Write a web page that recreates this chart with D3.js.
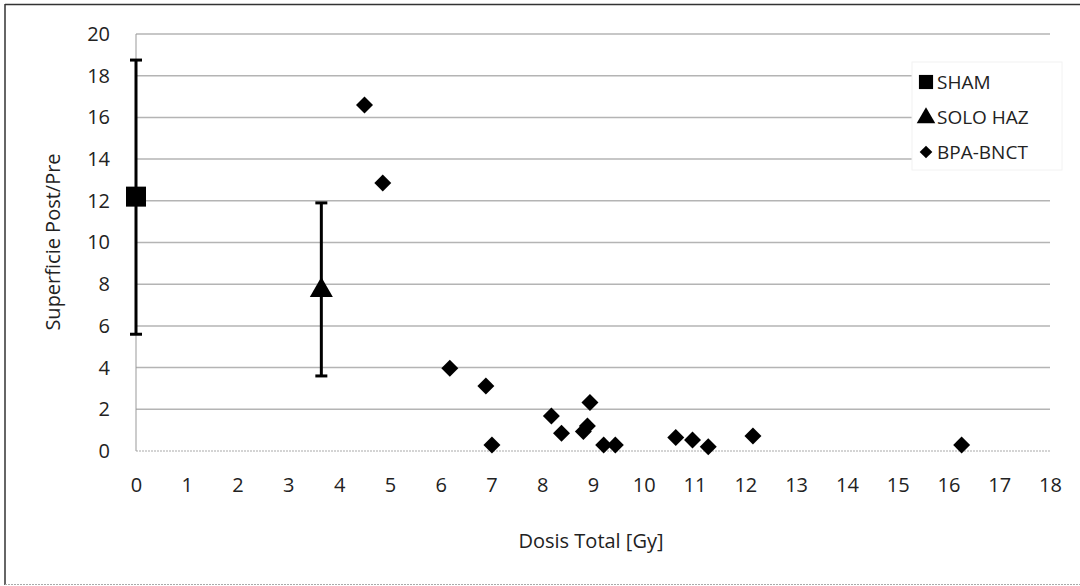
<!DOCTYPE html>
<html>
<head>
<meta charset="utf-8">
<script src="https://cdn.jsdelivr.net/npm/d3@7"></script>
<style>
  body { margin: 0; background: #fff; }
  svg { display: block; font-family: "Open Sans", Lato, sans-serif; }
</style>
</head>
<body>
<svg id="chart" width="1080" height="586"></svg>
<script>
// --- Datos ---
const xTicks = d3.range(0, 19, 1);
const yTicks = d3.range(0, 21, 2);

const shamX = [0];
const shamY = [12.2];
const shamLo = [5.6];
const shamHi = [18.75];

const hazX = [3.65];
const hazY = [7.8];
const hazLo = [3.6];
const hazHi = [11.9];

const bnctX = [4.5, 4.86, 6.18, 6.89, 7.01, 8.18, 8.38, 8.94, 8.89, 8.81, 9.21, 9.44, 10.63, 10.96, 11.27, 12.15, 16.26];
const bnctY = [16.6, 12.85, 3.97, 3.12, 0.29, 1.68, 0.85, 2.33, 1.2, 0.93, 0.29, 0.29, 0.65, 0.53, 0.2, 0.72, 0.29];

const legendNames = ["SHAM", "SOLO HAZ", "BPA-BNCT"];

// --- Escalas ---
const svg = d3.select("#chart");
const x = d3.scaleLinear().domain([0, 18]).range([136, 1050]);
const y = d3.scaleLinear().domain([0, 20]).range([451, 34]);
const font = "'Open Sans', Lato, sans-serif";

// marco exterior
svg.append("line").attr("x1", 5).attr("x2", 5).attr("y1", 4).attr("y2", 585)
    .attr("stroke", "#333").attr("stroke-width", 1.5);
svg.append("line").attr("x1", 5).attr("x2", 1080).attr("y1", 4.5).attr("y2", 4.5)
    .attr("stroke", "#333").attr("stroke-width", 1.5);
svg.append("line").attr("x1", 5).attr("x2", 1080).attr("y1", 584.5).attr("y2", 584.5)
    .attr("stroke", "#aaa").attr("stroke-width", 1).attr("stroke-dasharray", "2,1");

// lineas de cuadricula
svg.append("g").selectAll("line")
    .data(yTicks.filter(d => d > 0))
    .join("line")
    .attr("x1", x(0)).attr("x2", x(18))
    .attr("y1", d => y(d)).attr("y2", d => y(d))
    .attr("stroke", "#b4b4b4").attr("stroke-width", 1.5);

// eje x (linea base punteada)
svg.append("line").attr("x1", x(0)).attr("x2", x(18)).attr("y1", y(0)).attr("y2", y(0))
    .attr("stroke", "#aaa").attr("stroke-width", 1.2).attr("stroke-dasharray", "2,1");
// eje y
svg.append("line").attr("x1", x(0)).attr("x2", x(0)).attr("y1", y(20)).attr("y2", y(0))
    .attr("stroke", "#999").attr("stroke-width", 1);

// etiquetas de ejes
const xAxis = d3.axisBottom(x).tickValues(xTicks).tickSize(0).tickPadding(27);
svg.append("g").attr("transform", `translate(0,${y(0)})`).call(xAxis)
    .call(g => g.select(".domain").remove())
    .selectAll("text").attr("font-size", 20).attr("fill", "#222").attr("font-family", font);

const yAxis = d3.axisLeft(y).tickValues(yTicks).tickSize(0).tickPadding(26);
svg.append("g").attr("transform", `translate(${x(0)},0)`).call(yAxis)
    .call(g => g.select(".domain").remove())
    .selectAll("text").attr("font-size", 20).attr("fill", "#222").attr("font-family", font);

svg.append("text").attr("x", 591).attr("y", 548).attr("text-anchor", "middle")
    .attr("font-size", 20).attr("fill", "#222").text("Dosis Total [Gy]");
svg.append("text").attr("transform", "translate(60,242) rotate(-90)").attr("text-anchor", "middle")
    .attr("font-size", 20).attr("fill", "#222").text("Superficie Post/Pre");

// --- Barras de error ---
function errorBars(xs, lo, hi) {
    const g = svg.append("g");
    xs.forEach((d, i) => {
        g.append("line").attr("x1", x(d)).attr("x2", x(d)).attr("y1", y(lo[i])).attr("y2", y(hi[i]))
            .attr("stroke", "#000").attr("stroke-width", 3);
        [lo[i], hi[i]].forEach(v => {
            g.append("line").attr("x1", x(d) - 6).attr("x2", x(d) + 6).attr("y1", y(v)).attr("y2", y(v))
                .attr("stroke", "#000").attr("stroke-width", 3);
        });
    });
}
errorBars(shamX, shamLo, shamHi);
errorBars(hazX, hazLo, hazHi);

// --- Marcadores ---
const square = d3.symbol().type(d3.symbolSquare).size(400);
const triangle = d3.symbol().type(d3.symbolTriangle).size(230);
const diamond = d3.symbol().type(d3.symbolSquare).size(144);

svg.append("g").selectAll("path").data(shamX).join("path")
    .attr("d", square)
    .attr("transform", (d, i) => `translate(${x(d)},${y(shamY[i])})`)
    .attr("fill", "#000");

svg.append("g").selectAll("path").data(hazX).join("path")
    .attr("d", triangle)
    .attr("transform", (d, i) => `translate(${x(d)},${y(hazY[i]) + 2})`)
    .attr("fill", "#000");

svg.append("g").selectAll("path").data(bnctX).join("path")
    .attr("d", diamond)
    .attr("transform", (d, i) => `translate(${x(d)},${y(bnctY[i])}) rotate(45)`)
    .attr("fill", "#000");

// --- Leyenda ---
const legend = svg.append("g");
legend.append("rect").attr("x", 912).attr("y", 62).attr("width", 150).attr("height", 108)
    .attr("fill", "#fff").attr("stroke", "#f2f2f2").attr("stroke-width", 1);
const legendShapes = [
    d3.symbol().type(d3.symbolSquare).size(200),
    d3.symbol().type(d3.symbolTriangle).size(150),
    d3.symbol().type(d3.symbolSquare).size(80)
];
legendNames.forEach((name, i) => {
    const ly = 82 + i * 35;
    legend.append("path").attr("d", legendShapes[i])
        .attr("transform", `translate(926,${ly + (i === 1 ? 1 : 0)})${i === 2 ? " rotate(45)" : ""}`)
        .attr("fill", "#000");
    legend.append("text").attr("x", 937).attr("y", ly + 7)
        .attr("font-size", 19).attr("fill", "#222").attr("font-family", font).text(name);
});
</script>
</body>
</html>
